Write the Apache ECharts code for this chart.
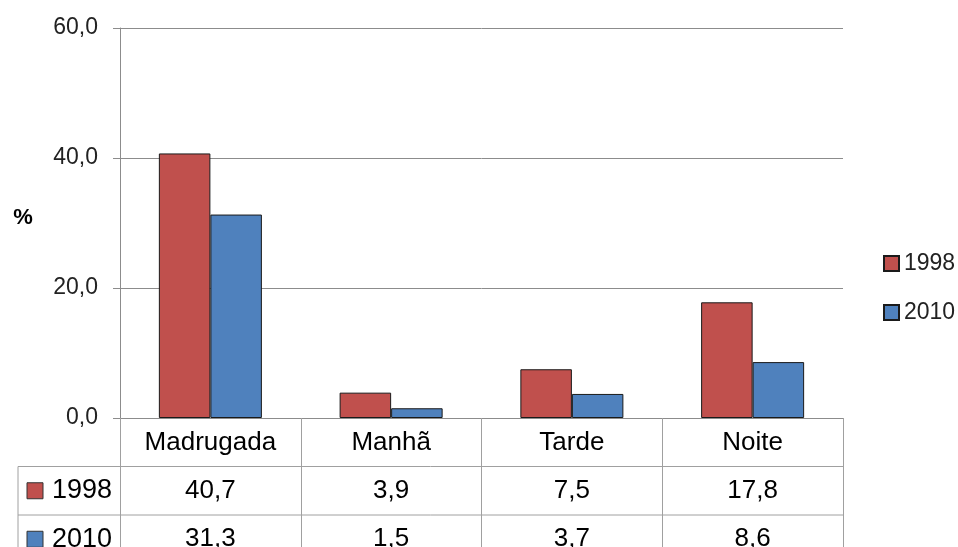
<!DOCTYPE html>
<html>
<head>
<meta charset="utf-8">
<script src="https://cdn.jsdelivr.net/npm/echarts@6/dist/echarts.min.js"></script>
<style>
  html, body { margin: 0; padding: 0; background: #fff; }
  #chart { width: 958px; height: 547px; }
</style>
</head>
<body>
<div id="chart"></div>
<script>
// data
const categories = ['Madrugada', 'Manhã', 'Tarde', 'Noite'];
const seriesNames = ['1998', '2010'];
const values1998 = [40.7, 3.9, 7.5, 17.8];
const values2010 = [31.3, 1.5, 3.7, 8.6];
const yTicks = [0, 20, 40, 60];

const colors = ['#C0504D', '#4F81BD'];
const gridColor = '#8c8c8c';
const tableColor = '#a0a0a0';
const font = 'Liberation Sans, Arial, sans-serif';

// plot area edges
const plotLeft = 120, plotRight = 843, plotTop = 28, plotBottom = 418;
const rowH = 48.5;

var fmt = (v) => v.toFixed(1).replace('.', ',');

var valueAxis = (data, offset) => ({
    type: 'category',
    data: data.map(fmt),
    position: 'bottom',
    offset: offset,
    axisLine: { show: false },
    axisTick: { show: false },
    axisLabel: {
        margin: 11,
        interval: 0,
        color: '#000',
        fontFamily: font,
        fontSize: 26
    }
});

var rowHeader = (name, color, cy) => ({
    type: 'group',
    children: [
        {
            type: 'rect',
            shape: { x: 27, y: cy - 8, width: 16, height: 16 },
            style: { fill: color, stroke: '#333', lineWidth: 1 }
        },
        {
            type: 'text',
            x: 52, y: cy,
            style: {
                text: name, fill: '#000', font: '27px ' + font,
                verticalAlign: 'middle', align: 'left'
            }
        }
    ]
});

const option = {
    backgroundColor: '#fff',
    animation: false,
    color: colors,
    grid: {
        left: plotLeft,
        right: 958 - plotRight,
        top: plotTop,
        bottom: 547 - plotBottom,
        outerBoundsMode: 'none'
    },
    legend: {
        orient: 'vertical',
        left: 878,
        top: 247,
        itemWidth: 15,
        itemHeight: 15,
        itemGap: 26,
        icon: 'rect',
        textStyle: { fontFamily: font, fontSize: 23, lineHeight: 22, color: '#222' },
        data: seriesNames
    },
    xAxis: [
        {
            type: 'category',
            data: categories,
            axisLine: { lineStyle: { color: gridColor } },
            axisTick: {
                show: true,
                length: 547 - plotBottom,
                lineStyle: { color: tableColor }
            },
            axisLabel: {
                margin: 12,
                interval: 0,
                color: '#000',
                fontFamily: font,
                fontSize: 26
            }
        },
        valueAxis(values1998, rowH),
        valueAxis(values2010, rowH * 2)
    ],
    yAxis: {
        type: 'value',
        min: yTicks[0],
        max: yTicks[yTicks.length - 1],
        interval: yTicks[1] - yTicks[0],
        axisLine: { show: true, lineStyle: { color: gridColor } },
        axisTick: { show: true, length: 7, lineStyle: { color: gridColor } },
        splitLine: { lineStyle: { color: gridColor } },
        axisLabel: {
            margin: 22,
            color: '#222',
            fontFamily: font,
            fontSize: 23,
            formatter: (v) => fmt(v)
        }
    },
    series: [
        {
            name: seriesNames[0],
            type: 'bar',
            data: values1998,
            barGap: '0%',
            barCategoryGap: '43%',
            itemStyle: { borderColor: '#1a1a1a', borderWidth: 1 }
        },
        {
            name: seriesNames[1],
            type: 'bar',
            data: values2010,
            barGap: '0%',
            barCategoryGap: '43%',
            itemStyle: { borderColor: '#1a1a1a', borderWidth: 1 }
        }
    ],
    graphic: [
        {
            type: 'text',
            x: 23, y: 218,
            style: {
                text: '%', fill: '#000', font: 'bold 22px ' + font,
                align: 'center', verticalAlign: 'middle'
            }
        },
        // table lines
        {
            type: 'line',
            shape: { x1: 18, y1: plotBottom + rowH, x2: plotRight, y2: plotBottom + rowH },
            style: { stroke: tableColor, lineWidth: 1 }
        },
        {
            type: 'line',
            shape: { x1: 18, y1: plotBottom + rowH * 2, x2: plotRight, y2: plotBottom + rowH * 2 },
            style: { stroke: tableColor, lineWidth: 1 }
        },
        {
            type: 'line',
            shape: { x1: 18, y1: plotBottom + rowH, x2: 18, y2: 547 },
            style: { stroke: tableColor, lineWidth: 1 }
        },
        rowHeader(seriesNames[0], colors[0], plotBottom + rowH * 1.5),
        rowHeader(seriesNames[1], colors[1], plotBottom + rowH * 2.5)
    ]
};

var chart = echarts.init(document.getElementById('chart'));
chart.setOption(option);
</script>
</body>
</html>
